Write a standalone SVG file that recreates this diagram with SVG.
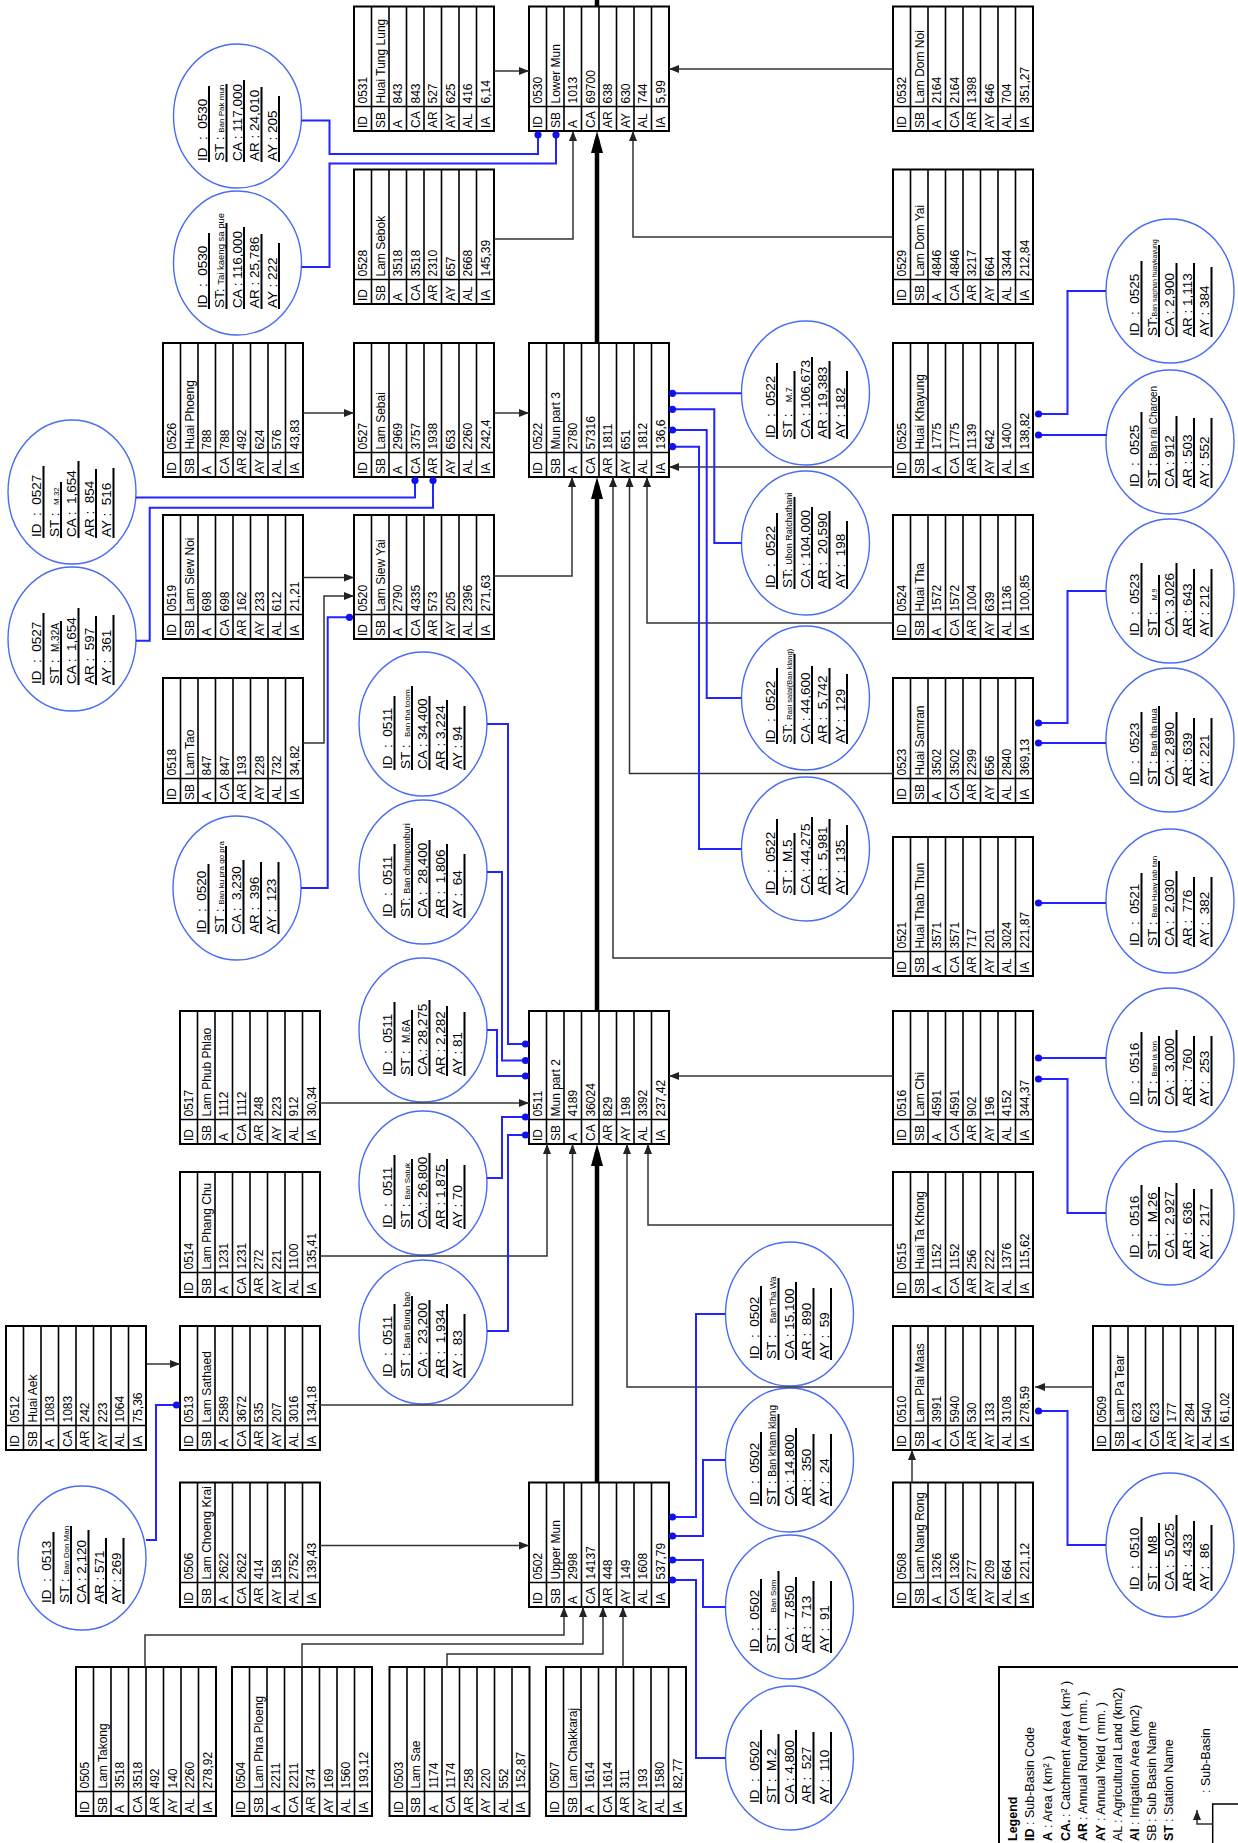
<svg xmlns="http://www.w3.org/2000/svg" xmlns:xlink="http://www.w3.org/1999/xlink" width="1238" height="1843" viewBox="0 0 1238 1843">
<style>
.tb{fill:#fff;stroke:#000;stroke-width:2}
.gl{fill:none;stroke:#000;stroke-width:1.6}
text{font-family:"Liberation Sans",Arial,sans-serif;fill:#000}
.v,.l{font-size:12px}
.e{font-size:13.5px}
.el{fill:#fff;stroke:#4a6cf2;stroke-width:1.4}
.ul{fill:none;stroke:#000;stroke-width:2}
.k{fill:none;stroke:#333;stroke-width:1.5}
.K{fill:none;stroke:#000;stroke-width:4.5}
.b{fill:none;stroke:#2323ff;stroke-width:2}
.d{fill:#1010f0}
.lg{font-size:12.5px}
</style>
<defs>
<marker id="ah" viewBox="0 0 10 8" refX="10" refY="4" markerWidth="10" markerHeight="8" markerUnits="userSpaceOnUse" orient="auto"><path d="M0 0L10 4L0 8z" fill="#222"/></marker>
<marker id="AH" viewBox="0 0 22 12" refX="14" refY="6" markerWidth="22" markerHeight="12" markerUnits="userSpaceOnUse" orient="auto"><path d="M0 0L22 6L0 12z" fill="#000"/></marker>
<g id="T100"><rect class="tb" x="-24.5" y="0" width="124.5" height="140"/><path class="gl" d="M0 0V140M-24.5 17.5H100M-24.5 35H100M-24.5 52.5H100M-24.5 70H100M-24.5 87.5H100M-24.5 105H100M-24.5 122.5H100"/></g>
<g id="T110"><rect class="tb" x="-24.5" y="0" width="134.5" height="140"/><path class="gl" d="M0 0V140M-24.5 17.5H110M-24.5 35H110M-24.5 52.5H110M-24.5 70H110M-24.5 87.5H110M-24.5 105H110M-24.5 122.5H110"/></g>
<g id="T109"><rect class="tb" x="-24.5" y="0" width="134" height="140"/><path class="gl" d="M0 0V140M-24.5 17.5H109.5M-24.5 35H109.5M-24.5 52.5H109.5M-24.5 70H109.5M-24.5 87.5H109.5M-24.5 105H109.5M-24.5 122.5H109.5"/></g>
<g id="T99"><rect class="tb" x="-24.5" y="0" width="124" height="140"/><path class="gl" d="M0 0V140M-24.5 17.5H99.5M-24.5 35H99.5M-24.5 52.5H99.5M-24.5 70H99.5M-24.5 87.5H99.5M-24.5 105H99.5M-24.5 122.5H99.5"/></g>
<g id="T1005"><rect class="tb" x="-24.5" y="0" width="125" height="140"/><path class="gl" d="M0 0V140M-24.5 17.5H100.5M-24.5 35H100.5M-24.5 52.5H100.5M-24.5 70H100.5M-24.5 87.5H100.5M-24.5 105H100.5M-24.5 122.5H100.5"/></g>
<g id="T114"><rect class="tb" x="-24.5" y="0" width="139" height="140"/><path class="gl" d="M0 0V140M-24.5 17.5H114.5M-24.5 35H114.5M-24.5 52.5H114.5M-24.5 70H114.5M-24.5 87.5H114.5M-24.5 105H114.5M-24.5 122.5H114.5"/></g>
<g id="T108"><rect class="tb" x="-24.5" y="0" width="133" height="140"/><path class="gl" d="M0 0V140M-24.5 17.5H108.5M-24.5 35H108.5M-24.5 52.5H108.5M-24.5 70H108.5M-24.5 87.5H108.5M-24.5 105H108.5M-24.5 122.5H108.5"/></g>
<g id="T124"><rect class="tb" x="-24.5" y="0" width="149" height="140"/><path class="gl" d="M0 0V140M-24.5 17.5H124.5M-24.5 35H124.5M-24.5 52.5H124.5M-24.5 70H124.5M-24.5 87.5H124.5M-24.5 105H124.5M-24.5 122.5H124.5"/></g>
</defs>
<rect width="1238" height="1843" fill="#fff"/>

<g id="nodes">
<g id="n0531" transform="translate(354,106.5) rotate(-90)"><use href="#T100"/><text class="l"><tspan x="-21.5" y="13">ID</tspan><tspan x="-21.5" y="30.5">SB</tspan><tspan x="-21.5" y="48">A</tspan><tspan x="-21.5" y="65.5">CA</tspan><tspan x="-21.5" y="83">AR</tspan><tspan x="-21.5" y="100.5">AY</tspan><tspan x="-21.5" y="118">AL</tspan><tspan x="-21.5" y="135.5">IA</tspan></text><text class="v"><tspan x="3" y="13">0531</tspan><tspan x="3" y="30.5">Huai Tung Lung</tspan><tspan x="3" y="48">843</tspan><tspan x="3" y="65.5">843</tspan><tspan x="3" y="83">527</tspan><tspan x="3" y="100.5">625</tspan><tspan x="3" y="118">416</tspan><tspan x="3" y="135.5">6,14</tspan></text></g>
<g id="n0530" transform="translate(529,106.5) rotate(-90)"><use href="#T100"/><text class="l"><tspan x="-21.5" y="13">ID</tspan><tspan x="-21.5" y="30.5">SB</tspan><tspan x="-21.5" y="48">A</tspan><tspan x="-21.5" y="65.5">CA</tspan><tspan x="-21.5" y="83">AR</tspan><tspan x="-21.5" y="100.5">AY</tspan><tspan x="-21.5" y="118">AL</tspan><tspan x="-21.5" y="135.5">IA</tspan></text><text class="v"><tspan x="3" y="13">0530</tspan><tspan x="3" y="30.5">Lower Mun</tspan><tspan x="3" y="48">1013</tspan><tspan x="3" y="65.5">69700</tspan><tspan x="3" y="83">638</tspan><tspan x="3" y="100.5">630</tspan><tspan x="3" y="118">744</tspan><tspan x="3" y="135.5">5,99</tspan></text></g>
<g id="n0532" transform="translate(893,106.5) rotate(-90)"><use href="#T100"/><text class="l"><tspan x="-21.5" y="13">ID</tspan><tspan x="-21.5" y="30.5">SB</tspan><tspan x="-21.5" y="48">A</tspan><tspan x="-21.5" y="65.5">CA</tspan><tspan x="-21.5" y="83">AR</tspan><tspan x="-21.5" y="100.5">AY</tspan><tspan x="-21.5" y="118">AL</tspan><tspan x="-21.5" y="135.5">IA</tspan></text><text class="v"><tspan x="3" y="13">0532</tspan><tspan x="3" y="30.5">Lam Dom Noi</tspan><tspan x="3" y="48">2164</tspan><tspan x="3" y="65.5">2164</tspan><tspan x="3" y="83">1398</tspan><tspan x="3" y="100.5">646</tspan><tspan x="3" y="118">704</tspan><tspan x="3" y="135.5">351,27</tspan></text></g>

<g id="n0528" transform="translate(354,279.5) rotate(-90)"><use href="#T110"/><text class="l"><tspan x="-21.5" y="13">ID</tspan><tspan x="-21.5" y="30.5">SB</tspan><tspan x="-21.5" y="48">A</tspan><tspan x="-21.5" y="65.5">CA</tspan><tspan x="-21.5" y="83">AR</tspan><tspan x="-21.5" y="100.5">AY</tspan><tspan x="-21.5" y="118">AL</tspan><tspan x="-21.5" y="135.5">IA</tspan></text><text class="v"><tspan x="3" y="13">0528</tspan><tspan x="3" y="30.5">Lam Sebok</tspan><tspan x="3" y="48">3518</tspan><tspan x="3" y="65.5">3518</tspan><tspan x="3" y="83">2310</tspan><tspan x="3" y="100.5">657</tspan><tspan x="3" y="118">2668</tspan><tspan x="3" y="135.5">145,39</tspan></text></g>
<g id="n0529" transform="translate(893,279.5) rotate(-90)"><use href="#T110"/><text class="l"><tspan x="-21.5" y="13">ID</tspan><tspan x="-21.5" y="30.5">SB</tspan><tspan x="-21.5" y="48">A</tspan><tspan x="-21.5" y="65.5">CA</tspan><tspan x="-21.5" y="83">AR</tspan><tspan x="-21.5" y="100.5">AY</tspan><tspan x="-21.5" y="118">AL</tspan><tspan x="-21.5" y="135.5">IA</tspan></text><text class="v"><tspan x="3" y="13">0529</tspan><tspan x="3" y="30.5">Lam Dom Yai</tspan><tspan x="3" y="48">4846</tspan><tspan x="3" y="65.5">4846</tspan><tspan x="3" y="83">3217</tspan><tspan x="3" y="100.5">664</tspan><tspan x="3" y="118">3344</tspan><tspan x="3" y="135.5">212,84</tspan></text></g>

<g id="n0526" transform="translate(163,452.5) rotate(-90)"><use href="#T109"/><text class="l"><tspan x="-21.5" y="13">ID</tspan><tspan x="-21.5" y="30.5">SB</tspan><tspan x="-21.5" y="48">A</tspan><tspan x="-21.5" y="65.5">CA</tspan><tspan x="-21.5" y="83">AR</tspan><tspan x="-21.5" y="100.5">AY</tspan><tspan x="-21.5" y="118">AL</tspan><tspan x="-21.5" y="135.5">IA</tspan></text><text class="v"><tspan x="3" y="13">0526</tspan><tspan x="3" y="30.5">Huai Phoeng</tspan><tspan x="3" y="48">788</tspan><tspan x="3" y="65.5">788</tspan><tspan x="3" y="83">492</tspan><tspan x="3" y="100.5">624</tspan><tspan x="3" y="118">576</tspan><tspan x="3" y="135.5">43,83</tspan></text></g>
<g id="n0527" transform="translate(354,452.5) rotate(-90)"><use href="#T109"/><text class="l"><tspan x="-21.5" y="13">ID</tspan><tspan x="-21.5" y="30.5">SB</tspan><tspan x="-21.5" y="48">A</tspan><tspan x="-21.5" y="65.5">CA</tspan><tspan x="-21.5" y="83">AR</tspan><tspan x="-21.5" y="100.5">AY</tspan><tspan x="-21.5" y="118">AL</tspan><tspan x="-21.5" y="135.5">IA</tspan></text><text class="v"><tspan x="3" y="13">0527</tspan><tspan x="3" y="30.5">Lam Sebai</tspan><tspan x="3" y="48">2969</tspan><tspan x="3" y="65.5">3757</tspan><tspan x="3" y="83">1938</tspan><tspan x="3" y="100.5">653</tspan><tspan x="3" y="118">2260</tspan><tspan x="3" y="135.5">242,4</tspan></text></g>
<g id="n0522" transform="translate(529,452.5) rotate(-90)"><use href="#T109"/><text class="l"><tspan x="-21.5" y="13">ID</tspan><tspan x="-21.5" y="30.5">SB</tspan><tspan x="-21.5" y="48">A</tspan><tspan x="-21.5" y="65.5">CA</tspan><tspan x="-21.5" y="83">AR</tspan><tspan x="-21.5" y="100.5">AY</tspan><tspan x="-21.5" y="118">AL</tspan><tspan x="-21.5" y="135.5">IA</tspan></text><text class="v"><tspan x="3" y="13">0522</tspan><tspan x="3" y="30.5">Mun part 3</tspan><tspan x="3" y="48">2780</tspan><tspan x="3" y="65.5">57316</tspan><tspan x="3" y="83">1811</tspan><tspan x="3" y="100.5">651</tspan><tspan x="3" y="118">1812</tspan><tspan x="3" y="135.5">136,6</tspan></text></g>
<g id="n0525" transform="translate(893,452.5) rotate(-90)"><use href="#T109"/><text class="l"><tspan x="-21.5" y="13">ID</tspan><tspan x="-21.5" y="30.5">SB</tspan><tspan x="-21.5" y="48">A</tspan><tspan x="-21.5" y="65.5">CA</tspan><tspan x="-21.5" y="83">AR</tspan><tspan x="-21.5" y="100.5">AY</tspan><tspan x="-21.5" y="118">AL</tspan><tspan x="-21.5" y="135.5">IA</tspan></text><text class="v"><tspan x="3" y="13">0525</tspan><tspan x="3" y="30.5">Huai Khayung</tspan><tspan x="3" y="48">1775</tspan><tspan x="3" y="65.5">1775</tspan><tspan x="3" y="83">1139</tspan><tspan x="3" y="100.5">642</tspan><tspan x="3" y="118">1400</tspan><tspan x="3" y="135.5">138,82</tspan></text></g>

<g id="n0519" transform="translate(163,614.5) rotate(-90)"><use href="#T99"/><text class="l"><tspan x="-21.5" y="13">ID</tspan><tspan x="-21.5" y="30.5">SB</tspan><tspan x="-21.5" y="48">A</tspan><tspan x="-21.5" y="65.5">CA</tspan><tspan x="-21.5" y="83">AR</tspan><tspan x="-21.5" y="100.5">AY</tspan><tspan x="-21.5" y="118">AL</tspan><tspan x="-21.5" y="135.5">IA</tspan></text><text class="v"><tspan x="3" y="13">0519</tspan><tspan x="3" y="30.5">Lam Siew Noi</tspan><tspan x="3" y="48">698</tspan><tspan x="3" y="65.5">698</tspan><tspan x="3" y="83">162</tspan><tspan x="3" y="100.5">233</tspan><tspan x="3" y="118">612</tspan><tspan x="3" y="135.5">21,21</tspan></text></g>
<g id="n0520" transform="translate(354,614.5) rotate(-90)"><use href="#T99"/><text class="l"><tspan x="-21.5" y="13">ID</tspan><tspan x="-21.5" y="30.5">SB</tspan><tspan x="-21.5" y="48">A</tspan><tspan x="-21.5" y="65.5">CA</tspan><tspan x="-21.5" y="83">AR</tspan><tspan x="-21.5" y="100.5">AY</tspan><tspan x="-21.5" y="118">AL</tspan><tspan x="-21.5" y="135.5">IA</tspan></text><text class="v"><tspan x="3" y="13">0520</tspan><tspan x="3" y="30.5">Lam Siew Yai</tspan><tspan x="3" y="48">2790</tspan><tspan x="3" y="65.5">4335</tspan><tspan x="3" y="83">573</tspan><tspan x="3" y="100.5">205</tspan><tspan x="3" y="118">2396</tspan><tspan x="3" y="135.5">271,63</tspan></text></g>
<g id="n0524" transform="translate(893,614.5) rotate(-90)"><use href="#T99"/><text class="l"><tspan x="-21.5" y="13">ID</tspan><tspan x="-21.5" y="30.5">SB</tspan><tspan x="-21.5" y="48">A</tspan><tspan x="-21.5" y="65.5">CA</tspan><tspan x="-21.5" y="83">AR</tspan><tspan x="-21.5" y="100.5">AY</tspan><tspan x="-21.5" y="118">AL</tspan><tspan x="-21.5" y="135.5">IA</tspan></text><text class="v"><tspan x="3" y="13">0524</tspan><tspan x="3" y="30.5">Huai Tha</tspan><tspan x="3" y="48">1572</tspan><tspan x="3" y="65.5">1572</tspan><tspan x="3" y="83">1004</tspan><tspan x="3" y="100.5">639</tspan><tspan x="3" y="118">1136</tspan><tspan x="3" y="135.5">100,85</tspan></text></g>

<g id="n0518" transform="translate(163,778.5) rotate(-90)"><use href="#T1005"/><text class="l"><tspan x="-21.5" y="13">ID</tspan><tspan x="-21.5" y="30.5">SB</tspan><tspan x="-21.5" y="48">A</tspan><tspan x="-21.5" y="65.5">CA</tspan><tspan x="-21.5" y="83">AR</tspan><tspan x="-21.5" y="100.5">AY</tspan><tspan x="-21.5" y="118">AL</tspan><tspan x="-21.5" y="135.5">IA</tspan></text><text class="v"><tspan x="3" y="13">0518</tspan><tspan x="3" y="30.5">Lam Tao</tspan><tspan x="3" y="48">847</tspan><tspan x="3" y="65.5">847</tspan><tspan x="3" y="83">193</tspan><tspan x="3" y="100.5">228</tspan><tspan x="3" y="118">732</tspan><tspan x="3" y="135.5">34,82</tspan></text></g>
<g id="n0523" transform="translate(893,778.5) rotate(-90)"><use href="#T1005"/><text class="l"><tspan x="-21.5" y="13">ID</tspan><tspan x="-21.5" y="30.5">SB</tspan><tspan x="-21.5" y="48">A</tspan><tspan x="-21.5" y="65.5">CA</tspan><tspan x="-21.5" y="83">AR</tspan><tspan x="-21.5" y="100.5">AY</tspan><tspan x="-21.5" y="118">AL</tspan><tspan x="-21.5" y="135.5">IA</tspan></text><text class="v"><tspan x="3" y="13">0523</tspan><tspan x="3" y="30.5">Huai Samran</tspan><tspan x="3" y="48">3502</tspan><tspan x="3" y="65.5">3502</tspan><tspan x="3" y="83">2299</tspan><tspan x="3" y="100.5">656</tspan><tspan x="3" y="118">2840</tspan><tspan x="3" y="135.5">369,13</tspan></text></g>

<g id="n0521" transform="translate(893,951.5) rotate(-90)"><use href="#T114"/><text class="l"><tspan x="-21.5" y="13">ID</tspan><tspan x="-21.5" y="30.5">SB</tspan><tspan x="-21.5" y="48">A</tspan><tspan x="-21.5" y="65.5">CA</tspan><tspan x="-21.5" y="83">AR</tspan><tspan x="-21.5" y="100.5">AY</tspan><tspan x="-21.5" y="118">AL</tspan><tspan x="-21.5" y="135.5">IA</tspan></text><text class="v"><tspan x="3" y="13">0521</tspan><tspan x="3" y="30.5">Huai Thab Thun</tspan><tspan x="3" y="48">3571</tspan><tspan x="3" y="65.5">3571</tspan><tspan x="3" y="83">717</tspan><tspan x="3" y="100.5">201</tspan><tspan x="3" y="118">3024</tspan><tspan x="3" y="135.5">221,87</tspan></text></g>

<g id="n0517" transform="translate(180,1119.5) rotate(-90)"><use href="#T108"/><text class="l"><tspan x="-21.5" y="13">ID</tspan><tspan x="-21.5" y="30.5">SB</tspan><tspan x="-21.5" y="48">A</tspan><tspan x="-21.5" y="65.5">CA</tspan><tspan x="-21.5" y="83">AR</tspan><tspan x="-21.5" y="100.5">AY</tspan><tspan x="-21.5" y="118">AL</tspan><tspan x="-21.5" y="135.5">IA</tspan></text><text class="v"><tspan x="3" y="13">0517</tspan><tspan x="3" y="30.5">Lam Phub Phlao</tspan><tspan x="3" y="48">1112</tspan><tspan x="3" y="65.5">1112</tspan><tspan x="3" y="83">248</tspan><tspan x="3" y="100.5">223</tspan><tspan x="3" y="118">912</tspan><tspan x="3" y="135.5">30,34</tspan></text></g>
<g id="n0511" transform="translate(529,1119.5) rotate(-90)"><use href="#T108"/><text class="l"><tspan x="-21.5" y="13">ID</tspan><tspan x="-21.5" y="30.5">SB</tspan><tspan x="-21.5" y="48">A</tspan><tspan x="-21.5" y="65.5">CA</tspan><tspan x="-21.5" y="83">AR</tspan><tspan x="-21.5" y="100.5">AY</tspan><tspan x="-21.5" y="118">AL</tspan><tspan x="-21.5" y="135.5">IA</tspan></text><text class="v"><tspan x="3" y="13">0511</tspan><tspan x="3" y="30.5">Mun part 2</tspan><tspan x="3" y="48">4189</tspan><tspan x="3" y="65.5">36024</tspan><tspan x="3" y="83">829</tspan><tspan x="3" y="100.5">198</tspan><tspan x="3" y="118">3392</tspan><tspan x="3" y="135.5">237,42</tspan></text></g>
<g id="n0516" transform="translate(893,1119.5) rotate(-90)"><use href="#T108"/><text class="l"><tspan x="-21.5" y="13">ID</tspan><tspan x="-21.5" y="30.5">SB</tspan><tspan x="-21.5" y="48">A</tspan><tspan x="-21.5" y="65.5">CA</tspan><tspan x="-21.5" y="83">AR</tspan><tspan x="-21.5" y="100.5">AY</tspan><tspan x="-21.5" y="118">AL</tspan><tspan x="-21.5" y="135.5">IA</tspan></text><text class="v"><tspan x="3" y="13">0516</tspan><tspan x="3" y="30.5">Lam Chi</tspan><tspan x="3" y="48">4591</tspan><tspan x="3" y="65.5">4591</tspan><tspan x="3" y="83">902</tspan><tspan x="3" y="100.5">196</tspan><tspan x="3" y="118">4152</tspan><tspan x="3" y="135.5">344,37</tspan></text></g>

<g id="n0514" transform="translate(180,1272.5) rotate(-90)"><use href="#T1005"/><text class="l"><tspan x="-21.5" y="13">ID</tspan><tspan x="-21.5" y="30.5">SB</tspan><tspan x="-21.5" y="48">A</tspan><tspan x="-21.5" y="65.5">CA</tspan><tspan x="-21.5" y="83">AR</tspan><tspan x="-21.5" y="100.5">AY</tspan><tspan x="-21.5" y="118">AL</tspan><tspan x="-21.5" y="135.5">IA</tspan></text><text class="v"><tspan x="3" y="13">0514</tspan><tspan x="3" y="30.5">Lam Phang Chu</tspan><tspan x="3" y="48">1231</tspan><tspan x="3" y="65.5">1231</tspan><tspan x="3" y="83">272</tspan><tspan x="3" y="100.5">221</tspan><tspan x="3" y="118">1100</tspan><tspan x="3" y="135.5">135,41</tspan></text></g>
<g id="n0515" transform="translate(893,1272.5) rotate(-90)"><use href="#T1005"/><text class="l"><tspan x="-21.5" y="13">ID</tspan><tspan x="-21.5" y="30.5">SB</tspan><tspan x="-21.5" y="48">A</tspan><tspan x="-21.5" y="65.5">CA</tspan><tspan x="-21.5" y="83">AR</tspan><tspan x="-21.5" y="100.5">AY</tspan><tspan x="-21.5" y="118">AL</tspan><tspan x="-21.5" y="135.5">IA</tspan></text><text class="v"><tspan x="3" y="13">0515</tspan><tspan x="3" y="30.5">Huai Ta Khong</tspan><tspan x="3" y="48">1152</tspan><tspan x="3" y="65.5">1152</tspan><tspan x="3" y="83">256</tspan><tspan x="3" y="100.5">222</tspan><tspan x="3" y="118">1376</tspan><tspan x="3" y="135.5">115,62</tspan></text></g>

<g id="n0512" transform="translate(6,1425.5) rotate(-90)"><use href="#T99"/><text class="l"><tspan x="-21.5" y="13">ID</tspan><tspan x="-21.5" y="30.5">SB</tspan><tspan x="-21.5" y="48">A</tspan><tspan x="-21.5" y="65.5">CA</tspan><tspan x="-21.5" y="83">AR</tspan><tspan x="-21.5" y="100.5">AY</tspan><tspan x="-21.5" y="118">AL</tspan><tspan x="-21.5" y="135.5">IA</tspan></text><text class="v"><tspan x="3" y="13">0512</tspan><tspan x="3" y="30.5">Huai Aek</tspan><tspan x="3" y="48">1083</tspan><tspan x="3" y="65.5">1083</tspan><tspan x="3" y="83">242</tspan><tspan x="3" y="100.5">223</tspan><tspan x="3" y="118">1064</tspan><tspan x="3" y="135.5">75,36</tspan></text></g>
<g id="n0513" transform="translate(180,1425.5) rotate(-90)"><use href="#T99"/><text class="l"><tspan x="-21.5" y="13">ID</tspan><tspan x="-21.5" y="30.5">SB</tspan><tspan x="-21.5" y="48">A</tspan><tspan x="-21.5" y="65.5">CA</tspan><tspan x="-21.5" y="83">AR</tspan><tspan x="-21.5" y="100.5">AY</tspan><tspan x="-21.5" y="118">AL</tspan><tspan x="-21.5" y="135.5">IA</tspan></text><text class="v"><tspan x="3" y="13">0513</tspan><tspan x="3" y="30.5">Lam Sathaed</tspan><tspan x="3" y="48">2589</tspan><tspan x="3" y="65.5">3672</tspan><tspan x="3" y="83">535</tspan><tspan x="3" y="100.5">207</tspan><tspan x="3" y="118">3016</tspan><tspan x="3" y="135.5">134,18</tspan></text></g>
<g id="n0510" transform="translate(893,1425.5) rotate(-90)"><use href="#T99"/><text class="l"><tspan x="-21.5" y="13">ID</tspan><tspan x="-21.5" y="30.5">SB</tspan><tspan x="-21.5" y="48">A</tspan><tspan x="-21.5" y="65.5">CA</tspan><tspan x="-21.5" y="83">AR</tspan><tspan x="-21.5" y="100.5">AY</tspan><tspan x="-21.5" y="118">AL</tspan><tspan x="-21.5" y="135.5">IA</tspan></text><text class="v"><tspan x="3" y="13">0510</tspan><tspan x="3" y="30.5">Lam Plai Maas</tspan><tspan x="3" y="48">3991</tspan><tspan x="3" y="65.5">5940</tspan><tspan x="3" y="83">530</tspan><tspan x="3" y="100.5">133</tspan><tspan x="3" y="118">3108</tspan><tspan x="3" y="135.5">278,59</tspan></text></g>
<g id="n0509" transform="translate(1093,1425.5) rotate(-90)"><use href="#T99"/><text class="l"><tspan x="-21.5" y="13">ID</tspan><tspan x="-21.5" y="30.5">SB</tspan><tspan x="-21.5" y="48">A</tspan><tspan x="-21.5" y="65.5">CA</tspan><tspan x="-21.5" y="83">AR</tspan><tspan x="-21.5" y="100.5">AY</tspan><tspan x="-21.5" y="118">AL</tspan><tspan x="-21.5" y="135.5">IA</tspan></text><text class="v"><tspan x="3" y="13">0509</tspan><tspan x="3" y="30.5">Lam Pa Tear</tspan><tspan x="3" y="48">623</tspan><tspan x="3" y="65.5">623</tspan><tspan x="3" y="83">177</tspan><tspan x="3" y="100.5">284</tspan><tspan x="3" y="118">540</tspan><tspan x="3" y="135.5">61,02</tspan></text></g>

<g id="n0506" transform="translate(180,1582.5) rotate(-90)"><use href="#T100"/><text class="l"><tspan x="-21.5" y="13">ID</tspan><tspan x="-21.5" y="30.5">SB</tspan><tspan x="-21.5" y="48">A</tspan><tspan x="-21.5" y="65.5">CA</tspan><tspan x="-21.5" y="83">AR</tspan><tspan x="-21.5" y="100.5">AY</tspan><tspan x="-21.5" y="118">AL</tspan><tspan x="-21.5" y="135.5">IA</tspan></text><text class="v"><tspan x="3" y="13">0506</tspan><tspan x="3" y="30.5">Lam Choeng Krai</tspan><tspan x="3" y="48">2622</tspan><tspan x="3" y="65.5">2622</tspan><tspan x="3" y="83">414</tspan><tspan x="3" y="100.5">158</tspan><tspan x="3" y="118">2752</tspan><tspan x="3" y="135.5">139,43</tspan></text></g>
<g id="n0502" transform="translate(529,1582.5) rotate(-90)"><use href="#T100"/><text class="l"><tspan x="-21.5" y="13">ID</tspan><tspan x="-21.5" y="30.5">SB</tspan><tspan x="-21.5" y="48">A</tspan><tspan x="-21.5" y="65.5">CA</tspan><tspan x="-21.5" y="83">AR</tspan><tspan x="-21.5" y="100.5">AY</tspan><tspan x="-21.5" y="118">AL</tspan><tspan x="-21.5" y="135.5">IA</tspan></text><text class="v"><tspan x="3" y="13">0502</tspan><tspan x="3" y="30.5">Upper Mun</tspan><tspan x="3" y="48">2998</tspan><tspan x="3" y="65.5">14137</tspan><tspan x="3" y="83">448</tspan><tspan x="3" y="100.5">149</tspan><tspan x="3" y="118">1608</tspan><tspan x="3" y="135.5">537,79</tspan></text></g>
<g id="n0508" transform="translate(893,1582.5) rotate(-90)"><use href="#T100"/><text class="l"><tspan x="-21.5" y="13">ID</tspan><tspan x="-21.5" y="30.5">SB</tspan><tspan x="-21.5" y="48">A</tspan><tspan x="-21.5" y="65.5">CA</tspan><tspan x="-21.5" y="83">AR</tspan><tspan x="-21.5" y="100.5">AY</tspan><tspan x="-21.5" y="118">AL</tspan><tspan x="-21.5" y="135.5">IA</tspan></text><text class="v"><tspan x="3" y="13">0508</tspan><tspan x="3" y="30.5">Lam Nang Rong</tspan><tspan x="3" y="48">1326</tspan><tspan x="3" y="65.5">1326</tspan><tspan x="3" y="83">277</tspan><tspan x="3" y="100.5">209</tspan><tspan x="3" y="118">664</tspan><tspan x="3" y="135.5">221,12</tspan></text></g>

<g id="n0505" transform="translate(76,1791.5) rotate(-90)"><use href="#T124"/><text class="l"><tspan x="-21.5" y="13">ID</tspan><tspan x="-21.5" y="30.5">SB</tspan><tspan x="-21.5" y="48">A</tspan><tspan x="-21.5" y="65.5">CA</tspan><tspan x="-21.5" y="83">AR</tspan><tspan x="-21.5" y="100.5">AY</tspan><tspan x="-21.5" y="118">AL</tspan><tspan x="-21.5" y="135.5">IA</tspan></text><text class="v"><tspan x="3" y="13">0505</tspan><tspan x="3" y="30.5">Lam Takong</tspan><tspan x="3" y="48">3518</tspan><tspan x="3" y="65.5">3518</tspan><tspan x="3" y="83">492</tspan><tspan x="3" y="100.5">140</tspan><tspan x="3" y="118">2260</tspan><tspan x="3" y="135.5">278,92</tspan></text></g>
<g id="n0504" transform="translate(232,1791.5) rotate(-90)"><use href="#T124"/><text class="l"><tspan x="-21.5" y="13">ID</tspan><tspan x="-21.5" y="30.5">SB</tspan><tspan x="-21.5" y="48">A</tspan><tspan x="-21.5" y="65.5">CA</tspan><tspan x="-21.5" y="83">AR</tspan><tspan x="-21.5" y="100.5">AY</tspan><tspan x="-21.5" y="118">AL</tspan><tspan x="-21.5" y="135.5">IA</tspan></text><text class="v"><tspan x="3" y="13">0504</tspan><tspan x="3" y="30.5">Lam Phra Ploeng</tspan><tspan x="3" y="48">2211</tspan><tspan x="3" y="65.5">2211</tspan><tspan x="3" y="83">374</tspan><tspan x="3" y="100.5">169</tspan><tspan x="3" y="118">1560</tspan><tspan x="3" y="135.5">193,12</tspan></text></g>
<g id="n0503" transform="translate(389.5,1791.5) rotate(-90)"><use href="#T124"/><text class="l"><tspan x="-21.5" y="13">ID</tspan><tspan x="-21.5" y="30.5">SB</tspan><tspan x="-21.5" y="48">A</tspan><tspan x="-21.5" y="65.5">CA</tspan><tspan x="-21.5" y="83">AR</tspan><tspan x="-21.5" y="100.5">AY</tspan><tspan x="-21.5" y="118">AL</tspan><tspan x="-21.5" y="135.5">IA</tspan></text><text class="v"><tspan x="3" y="13">0503</tspan><tspan x="3" y="30.5">Lam Sae</tspan><tspan x="3" y="48">1174</tspan><tspan x="3" y="65.5">1174</tspan><tspan x="3" y="83">258</tspan><tspan x="3" y="100.5">220</tspan><tspan x="3" y="118">552</tspan><tspan x="3" y="135.5">152,87</tspan></text></g>
<g id="n0507" transform="translate(546,1791.5) rotate(-90)"><use href="#T124"/><text class="l"><tspan x="-21.5" y="13">ID</tspan><tspan x="-21.5" y="30.5">SB</tspan><tspan x="-21.5" y="48">A</tspan><tspan x="-21.5" y="65.5">CA</tspan><tspan x="-21.5" y="83">AR</tspan><tspan x="-21.5" y="100.5">AY</tspan><tspan x="-21.5" y="118">AL</tspan><tspan x="-21.5" y="135.5">IA</tspan></text><text class="v"><tspan x="3" y="13">0507</tspan><tspan x="3" y="30.5">Lam Chakkaraj</tspan><tspan x="3" y="48">1614</tspan><tspan x="3" y="65.5">1614</tspan><tspan x="3" y="83">311</tspan><tspan x="3" y="100.5">193</tspan><tspan x="3" y="118">1580</tspan><tspan x="3" y="135.5">82,77</tspan></text></g>
</g>

<g id="stations">
<g id="s0530a" transform="translate(237.5,116)"><ellipse class="el" rx="64" ry="72"/><g transform="rotate(-90)"><text class="e" xml:space="preserve"><tspan x="-45" y="-31">ID  :  0530</tspan><tspan x="-45" y="-13.5">ST : <tspan font-size="8">Ban Pak mun</tspan></tspan><tspan x="-45" y="4">CA : 117,000</tspan><tspan x="-45" y="21.5">AR : 24,010</tspan><tspan x="-45" y="39">AY : 205</tspan></text><path class="ul" d="M-46 -28.5H30M-46 -11H32M-46 6.5H36M-46 24H29M-46 41.5H20"/></g></g>
<g id="s0530b" transform="translate(237.5,263)"><ellipse class="el" rx="64" ry="72"/><g transform="rotate(-90)"><text class="e" xml:space="preserve"><tspan x="-45" y="-31">ID  :  0530</tspan><tspan x="-45" y="-13.5">ST: <tspan font-size="9.5">Tai kaeng sa pue</tspan></tspan><tspan x="-45" y="4">CA : 116,000</tspan><tspan x="-45" y="21.5">AR : 25,786</tspan><tspan x="-45" y="39">AY : 222</tspan></text><path class="ul" d="M-46 -28.5H30M-46 -11H40M-46 6.5H36M-46 24H29M-46 41.5H20"/></g></g>
<g id="s0527a" transform="translate(72,492)"><ellipse class="el" rx="64" ry="72"/><g transform="rotate(-90)"><text class="e" xml:space="preserve"><tspan x="-45" y="-31">ID  :  0527</tspan><tspan x="-45" y="-13.5">ST :  <tspan font-size="8">M.32</tspan></tspan><tspan x="-45" y="4">CA :  1,654</tspan><tspan x="-45" y="21.5">AR :  854</tspan><tspan x="-45" y="39">AY :  516</tspan></text><path class="ul" d="M-46 -28.5H26M-46 -11H10M-46 6.5H31M-46 24H23M-46 41.5H24"/></g></g>
<g id="s0527b" transform="translate(72,639)"><ellipse class="el" rx="64" ry="72"/><g transform="rotate(-90)"><text class="e" xml:space="preserve"><tspan x="-45" y="-31">ID  :  0527</tspan><tspan x="-45" y="-13.5">ST :  <tspan font-size="10">M.32A</tspan></tspan><tspan x="-45" y="4">CA :  1,654</tspan><tspan x="-45" y="21.5">AR :  597</tspan><tspan x="-45" y="39">AY :  361</tspan></text><path class="ul" d="M-46 -28.5H26M-46 -11H18M-46 6.5H31M-46 24H23M-46 41.5H24"/></g></g>
<g id="s0520" transform="translate(237,888)"><ellipse class="el" rx="64" ry="72"/><g transform="rotate(-90)"><text class="e" xml:space="preserve"><tspan x="-45" y="-31">ID  :  0520</tspan><tspan x="-45" y="-13.5">ST : <tspan font-size="8">Ban ku pra go pra</tspan></tspan><tspan x="-45" y="4">CA :  3,230</tspan><tspan x="-45" y="21.5">AR :  396</tspan><tspan x="-45" y="39">AY :  123</tspan></text><path class="ul" d="M-46 -28.5H24M-46 -11H42M-46 6.5H28M-46 24H26M-46 41.5H26"/></g></g>
<g id="s0513" transform="translate(82,1558)"><ellipse class="el" rx="64" ry="72"/><g transform="rotate(-90)"><text class="e" xml:space="preserve"><tspan x="-45" y="-31">ID  :  0513</tspan><tspan x="-45" y="-13.5">ST : <tspan font-size="8">Ban Don Man</tspan></tspan><tspan x="-45" y="4">CA : 2,120</tspan><tspan x="-45" y="21.5">AR : 571</tspan><tspan x="-45" y="39">AY : 269</tspan></text><path class="ul" d="M-46 -28.5H26M-46 -11H32M-46 6.5H28M-46 24H20M-46 41.5H20"/></g></g>

<g id="s0511a" transform="translate(423,724)"><ellipse class="el" rx="64" ry="72"/><g transform="rotate(-90)"><text class="e" xml:space="preserve"><tspan x="-45" y="-31">ID  :  0511</tspan><tspan x="-45" y="-13.5">ST :  <tspan font-size="8">Ban tha toom</tspan></tspan><tspan x="-45" y="4">CA : 34,400</tspan><tspan x="-45" y="21.5">AR : 3,224</tspan><tspan x="-45" y="39">AY : 94</tspan></text><path class="ul" d="M-46 -28.5H28M-46 -11H38M-46 6.5H28M-46 24H24M-46 41.5H18"/></g></g>
<g id="s0511b" transform="translate(423,872)"><ellipse class="el" rx="64" ry="72"/><g transform="rotate(-90)"><text class="e" xml:space="preserve"><tspan x="-45" y="-31">ID  :  0511</tspan><tspan x="-45" y="-13.5">ST: <tspan font-size="9">Ban chumponburi</tspan></tspan><tspan x="-45" y="4">CA :  28,400</tspan><tspan x="-45" y="21.5">AR :  1,806</tspan><tspan x="-45" y="39">AY :  64</tspan></text><path class="ul" d="M-46 -28.5H28M-46 -11H44M-46 6.5H32M-46 24H28M-46 41.5H18"/></g></g>
<g id="s0511c" transform="translate(423,1030)"><ellipse class="el" rx="64" ry="72"/><g transform="rotate(-90)"><text class="e" xml:space="preserve"><tspan x="-45" y="-31">ID  :  0511</tspan><tspan x="-45" y="-13.5">ST :  <tspan font-size="10">M.6A</tspan></tspan><tspan x="-45" y="4">CA.: 28,275</tspan><tspan x="-45" y="21.5">AR : 2,282</tspan><tspan x="-45" y="39">AY : 81</tspan></text><path class="ul" d="M-46 -28.5H28M-46 -11H20M-46 6.5H30M-46 24H24M-46 41.5H18"/></g></g>
<g id="s0511d" transform="translate(423,1183)"><ellipse class="el" rx="64" ry="72"/><g transform="rotate(-90)"><text class="e" xml:space="preserve"><tspan x="-45" y="-31">ID  :  0511</tspan><tspan x="-45" y="-13.5">ST : <tspan font-size="8">Ban Satuk</tspan></tspan><tspan x="-45" y="4">CA.: 26,800</tspan><tspan x="-45" y="21.5">AR : 1,875</tspan><tspan x="-45" y="39">AY : 70</tspan></text><path class="ul" d="M-46 -28.5H28M-46 -11H24M-46 6.5H30M-46 24H24M-46 41.5H18"/></g></g>
<g id="s0511e" transform="translate(423,1332)"><ellipse class="el" rx="64" ry="72"/><g transform="rotate(-90)"><text class="e" xml:space="preserve"><tspan x="-45" y="-31">ID  :  0511</tspan><tspan x="-45" y="-13.5">ST : <tspan font-size="9">Ban Bung bao</tspan></tspan><tspan x="-45" y="4">CA :  23,200</tspan><tspan x="-45" y="21.5">AR :  1,934</tspan><tspan x="-45" y="39">AY :  83</tspan></text><path class="ul" d="M-46 -28.5H28M-46 -11H36M-46 6.5H32M-46 24H28M-46 41.5H18"/></g></g>

<g id="s0522a" transform="translate(805.5,393)"><ellipse class="el" rx="64" ry="72"/><g transform="rotate(-90)"><text class="e" xml:space="preserve"><tspan x="-45" y="-31">ID  :  0522</tspan><tspan x="-45" y="-13.5">ST :   <tspan font-size="9">M.7</tspan></tspan><tspan x="-45" y="4">CA : 106,673</tspan><tspan x="-45" y="21.5">AR : 19,383</tspan><tspan x="-45" y="39">AY : 182</tspan></text><path class="ul" d="M-46 -28.5H30M-46 -11H22M-46 6.5H36M-46 24H32M-46 41.5H22"/></g></g>
<g id="s0522b" transform="translate(805.5,543)"><ellipse class="el" rx="64" ry="72"/><g transform="rotate(-90)"><text class="e" xml:space="preserve"><tspan x="-45" y="-31">ID  :  0522</tspan><tspan x="-45" y="-13.5">ST: <tspan font-size="9">Ubon Ratchathani</tspan></tspan><tspan x="-45" y="4">CA : 104,000</tspan><tspan x="-45" y="21.5">AR :  20,590</tspan><tspan x="-45" y="39">AY :  198</tspan></text><path class="ul" d="M-46 -28.5H30M-46 -11H46M-46 6.5H36M-46 24H32M-46 41.5H22"/></g></g>
<g id="s0522c" transform="translate(805.5,698)"><ellipse class="el" rx="64" ry="72"/><g transform="rotate(-90)"><text class="e" xml:space="preserve"><tspan x="-45" y="-31">ID  :  0522</tspan><tspan x="-45" y="-13.5">ST: <tspan font-size="7.5">Rasi salai(Ban klang)</tspan></tspan><tspan x="-45" y="4">CA : 44,600</tspan><tspan x="-45" y="21.5">AR :  5,742</tspan><tspan x="-45" y="39">AY :  129</tspan></text><path class="ul" d="M-46 -28.5H30M-46 -11H44M-46 6.5H32M-46 24H30M-46 41.5H24"/></g></g>
<g id="s0522d" transform="translate(805.5,849)"><ellipse class="el" rx="64" ry="72"/><g transform="rotate(-90)"><text class="e" xml:space="preserve"><tspan x="-45" y="-31">ID  :  0522</tspan><tspan x="-45" y="-13.5">ST :  M.5</tspan><tspan x="-45" y="4">CA : 44,275</tspan><tspan x="-45" y="21.5">AR :  5,981</tspan><tspan x="-45" y="39">AY :  135</tspan></text><path class="ul" d="M-46 -28.5H30M-46 -11H16M-46 6.5H32M-46 24H30M-46 41.5H24"/></g></g>

<g id="s0525a" transform="translate(1170,291)"><ellipse class="el" rx="64" ry="72"/><g transform="rotate(-90)"><text class="e" xml:space="preserve"><tspan x="-45" y="-31">ID  :  0525</tspan><tspan x="-45" y="-13.5">ST:<tspan font-size="7">Ban saphan huaykayung</tspan></tspan><tspan x="-45" y="4">CA : 2,900</tspan><tspan x="-45" y="21.5">AR : 1,113</tspan><tspan x="-45" y="39">AY : 384</tspan></text><path class="ul" d="M-46 -28.5H30M-46 -11H46M-46 6.5H28M-46 24H28M-46 41.5H24"/></g></g>
<g id="s0525b" transform="translate(1170,442)"><ellipse class="el" rx="64" ry="72"/><g transform="rotate(-90)"><text class="e" xml:space="preserve"><tspan x="-45" y="-31">ID  :  0525</tspan><tspan x="-45" y="-13.5">ST : <tspan font-size="10">Ban rai Charoen</tspan></tspan><tspan x="-45" y="4">CA : 912</tspan><tspan x="-45" y="21.5">AR : 503</tspan><tspan x="-45" y="39">AY : 552</tspan></text><path class="ul" d="M-46 -28.5H30M-46 -11H46M-46 6.5H26M-46 24H24M-46 41.5H24"/></g></g>
<g id="s0523a" transform="translate(1170,591)"><ellipse class="el" rx="64" ry="72"/><g transform="rotate(-90)"><text class="e" xml:space="preserve"><tspan x="-45" y="-31">ID  :  0523</tspan><tspan x="-45" y="-13.5">ST :   <tspan font-size="7">M.9</tspan></tspan><tspan x="-45" y="4">CA : 3,026</tspan><tspan x="-45" y="21.5">AR : 643</tspan><tspan x="-45" y="39">AY : 212</tspan></text><path class="ul" d="M-46 -28.5H28M-46 -11H16M-46 6.5H28M-46 24H22M-46 41.5H22"/></g></g>
<g id="s0523b" transform="translate(1170,740)"><ellipse class="el" rx="64" ry="72"/><g transform="rotate(-90)"><text class="e" xml:space="preserve"><tspan x="-45" y="-31">ID  :  0523</tspan><tspan x="-45" y="-13.5">ST : <tspan font-size="9">Ban tha nua</tspan></tspan><tspan x="-45" y="4">CA : 2,890</tspan><tspan x="-45" y="21.5">AR : 639</tspan><tspan x="-45" y="39">AY : 221</tspan></text><path class="ul" d="M-46 -28.5H28M-46 -11H34M-46 6.5H28M-46 24H22M-46 41.5H22"/></g></g>
<g id="s0521" transform="translate(1170,901)"><ellipse class="el" rx="64" ry="72"/><g transform="rotate(-90)"><text class="e" xml:space="preserve"><tspan x="-45" y="-31">ID  :  0521</tspan><tspan x="-45" y="-13.5">ST : <tspan font-size="8">Ban Huay tab tan</tspan></tspan><tspan x="-45" y="4">CA :  2,030</tspan><tspan x="-45" y="21.5">AR :  776</tspan><tspan x="-45" y="39">AY :  382</tspan></text><path class="ul" d="M-46 -28.5H28M-46 -11H40M-46 6.5H30M-46 24H24M-46 41.5H24"/></g></g>
<g id="s0516a" transform="translate(1170,1060)"><ellipse class="el" rx="64" ry="72"/><g transform="rotate(-90)"><text class="e" xml:space="preserve"><tspan x="-45" y="-31">ID  :  0516</tspan><tspan x="-45" y="-13.5">ST : <tspan font-size="8">Ban la lon</tspan></tspan><tspan x="-45" y="4">CA :  3,000</tspan><tspan x="-45" y="21.5">AR :  760</tspan><tspan x="-45" y="39">AY :  253</tspan></text><path class="ul" d="M-46 -28.5H28M-46 -11H24M-46 6.5H30M-46 24H24M-46 41.5H24"/></g></g>
<g id="s0516b" transform="translate(1170,1213)"><ellipse class="el" rx="64" ry="72"/><g transform="rotate(-90)"><text class="e" xml:space="preserve"><tspan x="-45" y="-31">ID  :  0516</tspan><tspan x="-45" y="-13.5">ST :   M.26</tspan><tspan x="-45" y="4">CA :  2,927</tspan><tspan x="-45" y="21.5">AR :  636</tspan><tspan x="-45" y="39">AY :  217</tspan></text><path class="ul" d="M-46 -28.5H28M-46 -11H26M-46 6.5H30M-46 24H24M-46 41.5H24"/></g></g>
<g id="s0510" transform="translate(1170,1545)"><ellipse class="el" rx="64" ry="72"/><g transform="rotate(-90)"><text class="e" xml:space="preserve"><tspan x="-45" y="-31">ID  :  0510</tspan><tspan x="-45" y="-13.5">ST :   M8</tspan><tspan x="-45" y="4">CA :  5,025</tspan><tspan x="-45" y="21.5">AR :  433</tspan><tspan x="-45" y="39">AY :  86</tspan></text><path class="ul" d="M-46 -28.5H28M-46 -11H22M-46 6.5H30M-46 24H24M-46 41.5H20"/></g></g>

<g id="s0502a" transform="translate(789.5,1314)"><ellipse class="el" rx="64" ry="72"/><g transform="rotate(-90)"><text class="e" xml:space="preserve"><tspan x="-45" y="-31">ID  :  0502</tspan><tspan x="-45" y="-13.5">ST :   <tspan font-size="8.5">Ban Tha Wa</tspan></tspan><tspan x="-45" y="4">CA : 15,100</tspan><tspan x="-45" y="21.5">AR :  890</tspan><tspan x="-45" y="39">AY :  59</tspan></text><path class="ul" d="M-46 -28.5H28M-46 -11H36M-46 6.5H32M-46 24H26M-46 41.5H26"/></g></g>
<g id="s0502b" transform="translate(789.5,1460)"><ellipse class="el" rx="64" ry="72"/><g transform="rotate(-90)"><text class="e" xml:space="preserve"><tspan x="-45" y="-31">ID  :  0502</tspan><tspan x="-45" y="-13.5">ST : <tspan font-size="10">Ban kham klang</tspan></tspan><tspan x="-45" y="4">CA : 14,800</tspan><tspan x="-45" y="21.5">AR :  350</tspan><tspan x="-45" y="39">AY :  24</tspan></text><path class="ul" d="M-46 -28.5H28M-46 -11H46M-46 6.5H32M-46 24H26M-46 41.5H26"/></g></g>
<g id="s0502c" transform="translate(789.5,1607)"><ellipse class="el" rx="64" ry="72"/><g transform="rotate(-90)"><text class="e" xml:space="preserve"><tspan x="-45" y="-31">ID  :  0502</tspan><tspan x="-45" y="-13.5">ST :    <tspan font-size="8">Ban Som</tspan></tspan><tspan x="-45" y="4">CA :  7,850</tspan><tspan x="-45" y="21.5">AR :  713</tspan><tspan x="-45" y="39">AY :  91</tspan></text><path class="ul" d="M-46 -28.5H28M-46 -11H36M-46 6.5H30M-46 24H26M-46 41.5H26"/></g></g>
<g id="s0502d" transform="translate(789.5,1758)"><ellipse class="el" rx="64" ry="72"/><g transform="rotate(-90)"><text class="e" xml:space="preserve"><tspan x="-45" y="-31">ID  :  0502</tspan><tspan x="-45" y="-13.5">ST :  M.2</tspan><tspan x="-45" y="4">CA : 4,800</tspan><tspan x="-45" y="21.5">AR :  527</tspan><tspan x="-45" y="39">AY :  110</tspan></text><path class="ul" d="M-46 -28.5H28M-46 -11H24M-46 6.5H28M-46 24H26M-46 41.5H26"/></g></g>
</g>

<g id="connectors">
<g class="k" marker-end="url(#ah)">
<path d="M494 71H529"/>
<path d="M893 69H669"/>
<path d="M494 239H573V131"/>
<path d="M893 237H633V131"/>
<path d="M303 413H354"/>
<path d="M494 413H529"/>
<path d="M303 577.5H354"/>
<path d="M303 743H324V596H354"/>
<path d="M494 576H572V477"/>
<path d="M893 467H669"/>
<path d="M893 623H647V477"/>
<path d="M893 773.5H629.5V477"/>
<path d="M893 958H613V477"/>
<path d="M320 1103H529"/>
<path d="M320 1256H547V1144"/>
<path d="M320 1405H572.5V1144"/>
<path d="M147 1364H180"/>
<path d="M893 1076H669"/>
<path d="M893 1225H648V1144"/>
<path d="M893 1387H627V1144"/>
<path d="M1093 1387H1035"/>
<path d="M912 1482.5V1450"/>
<path d="M320 1545.5H529"/>
<path d="M145 1667V1635H564V1607"/>
<path d="M302 1667V1644H583V1607"/>
<path d="M447 1667V1654H603V1607"/>
<path d="M623 1667V1607"/>
</g>
<path class="K" d="M597 0V7"/>
<g class="K" marker-end="url(#AH)">
<path d="M597 343V139"/>
<path d="M597 1011V485"/>
<path d="M597 1482.5V1152"/>
</g>
<g class="b">
<path d="M301.5 120.5H329.5V154H538V138"/>
<path d="M301.5 267H329.5V163.5H556V138"/>
<path d="M136 497.5H415V480"/>
<path d="M136 640.7H149.7V507.7H433V480"/>
<path d="M301 888H327.7V617.3H350"/>
<path d="M146 1540H156V1405H176"/>
<path d="M487 724H508V1044H525"/>
<path d="M487 872H502V1060.5H525"/>
<path d="M487 1030H497V1076H525"/>
<path d="M487 1178H502V1117H525"/>
<path d="M487 1331H508V1135H525"/>
<path d="M673 393.3H741.5"/>
<path d="M673 409.3H714.3V543H741.5"/>
<path d="M673 430H706.7V698H741.5"/>
<path d="M673 446.7H699V849H741.5"/>
<path d="M1038.5 414H1067.5V291H1106"/>
<path d="M1038.5 435H1107"/>
<path d="M1038.5 723H1067.5V591H1106"/>
<path d="M1038.5 743H1106"/>
<path d="M1038.5 903H1106"/>
<path d="M1038.5 1058H1106"/>
<path d="M1038.5 1079H1067.5V1213H1106"/>
<path d="M1038.5 1411H1067.5V1545H1106"/>
<path d="M673 1517H696V1314H725.5"/>
<path d="M673 1536H703V1460H725.5"/>
<path d="M673 1560H703V1607H725.5"/>
<path d="M673 1580H696V1758H725.5"/>
</g>
<g class="d">
<circle cx="538" cy="134.8" r="3.6"/><circle cx="556" cy="134.8" r="3.6"/>
<circle cx="415" cy="480.5" r="3.6"/><circle cx="433" cy="480.5" r="3.6"/>
<circle cx="349.5" cy="617.3" r="3.6"/><circle cx="176.5" cy="1405" r="3.6"/>
<circle cx="525.5" cy="1044" r="3.6"/><circle cx="525.5" cy="1060.5" r="3.6"/><circle cx="525.5" cy="1076" r="3.6"/><circle cx="525.5" cy="1117" r="3.6"/><circle cx="525.5" cy="1135" r="3.6"/>
<circle cx="672.5" cy="393.3" r="3.6"/><circle cx="672.5" cy="409.3" r="3.6"/><circle cx="672.5" cy="430" r="3.6"/><circle cx="672.5" cy="446.7" r="3.6"/>
<circle cx="1038.5" cy="414" r="3.6"/><circle cx="1038.5" cy="435" r="3.6"/><circle cx="1038.5" cy="723" r="3.6"/><circle cx="1038.5" cy="743" r="3.6"/><circle cx="1038.5" cy="903" r="3.6"/><circle cx="1038.5" cy="1058" r="3.6"/><circle cx="1038.5" cy="1079" r="3.6"/><circle cx="1038.5" cy="1411" r="3.6"/>
<circle cx="672.5" cy="1517" r="3.6"/><circle cx="672.5" cy="1536" r="3.6"/><circle cx="672.5" cy="1560" r="3.6"/><circle cx="672.5" cy="1580" r="3.6"/>
</g>
</g>

<g id="legend">
<rect x="999" y="1667" width="300" height="250" fill="#fff" stroke="#000" stroke-width="2"/>
<g transform="translate(0,1842) rotate(-90)">
<text class="lg" font-weight="bold" x="1" y="1016.5">Legend</text>
<text class="lg" x="1" y="1034"><tspan font-weight="bold">ID</tspan><tspan x="17">: Sub-Basin Code</tspan></text>
<text class="lg" x="1" y="1051.5"><tspan font-weight="bold">A</tspan><tspan x="14">: Area ( km² )</tspan></text>
<text class="lg" x="1" y="1069.5"><tspan font-weight="bold">CA.</tspan><tspan x="25">: Catchment Area ( km² )</tspan></text>
<text class="lg" x="1" y="1087"><tspan font-weight="bold">AR</tspan><tspan x="22">: Annual Runoff ( mm. )</tspan></text>
<text class="lg" x="1" y="1104.5"><tspan font-weight="bold">AY</tspan><tspan x="21">: Annual Yield ( mm. )</tspan></text>
<text class="lg" x="1" y="1122"><tspan>AL</tspan><tspan x="19">: Agricultural Land  (km2)</tspan></text>
<text class="lg" x="1" y="1139"><tspan font-weight="bold">AI</tspan><tspan x="17">: Irrigation Area  (km2)</tspan></text>
<text class="lg" x="1" y="1156"><tspan>SB</tspan><tspan x="20">: Sub Basin Name</tspan></text>
<text class="lg" x="1" y="1173"><tspan font-weight="bold">ST</tspan><tspan x="20">: Station Name</tspan></text>
<text class="lg" x="49" y="1210">: Sub-Basin</text>
</g>
<rect x="1212.7" y="1804" width="100" height="100" fill="none" stroke="#000" stroke-width="1.5"/>
<path class="k" d="M1212.7 1824H1197V1810" marker-end="url(#ah)"/>
</g>
</svg>
